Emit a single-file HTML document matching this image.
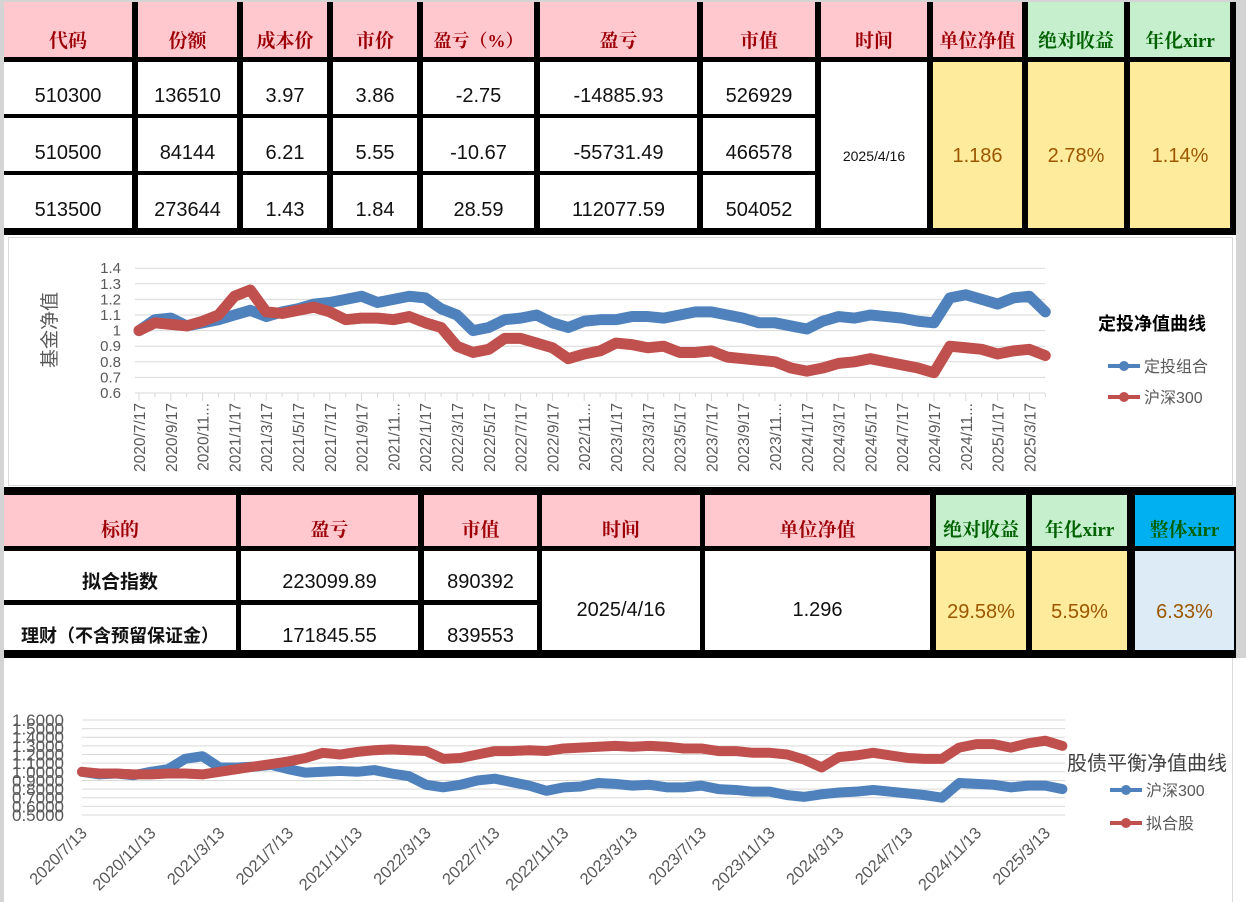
<!DOCTYPE html>
<html><head><meta charset="utf-8">
<style>
body{margin:0;width:1246px;height:902px;background:#d4d4d4;position:relative;overflow:hidden;font-family:"Liberation Sans","Noto Sans CJK SC",sans-serif}
.blk{position:absolute;background:#000}
.c{position:absolute;display:flex;justify-content:center;align-items:flex-end;box-sizing:border-box;padding-bottom:6px;font-size:20px;color:#111;white-space:nowrap}
.h{background:#ffc7ce;color:#9c0006;font-weight:bold;font-family:"Liberation Serif","Noto Serif CJK SC",serif;font-size:19px;padding-bottom:4px}
.g{background:#c6efce;color:#006100}
.y{background:#ffeb9c;color:#9c5700;align-items:center;padding-bottom:0}
.w{background:#fff}
.m{align-items:center;padding-bottom:0}
.low{padding-top:22px}
svg text{font-family:"Liberation Sans","Noto Sans CJK SC",sans-serif}
</style></head><body>
<!-- top table -->
<div class="blk" style="left:4px;top:2px;width:1232px;height:233px"></div>
<div class="c h" style="left:4px;top:2px;width:128px;height:55px">代码</div>
<div class="c h" style="left:138px;top:2px;width:99px;height:55px">份额</div>
<div class="c h" style="left:243px;top:2px;width:84px;height:55px">成本价</div>
<div class="c h" style="left:333px;top:2px;width:84px;height:55px">市价</div>
<div class="c h" style="left:423px;top:2px;width:111px;height:55px;font-size:18px">盈亏（%）</div>
<div class="c h" style="left:540px;top:2px;width:157px;height:55px">盈亏</div>
<div class="c h" style="left:703px;top:2px;width:112px;height:55px">市值</div>
<div class="c h" style="left:821px;top:2px;width:106px;height:55px">时间</div>
<div class="c h" style="left:933px;top:2px;width:89px;height:55px">单位净值</div>
<div class="c h g" style="left:1028px;top:2px;width:96px;height:55px">绝对收益</div>
<div class="c h g" style="left:1130px;top:2px;width:100px;height:55px">年化xirr</div>

<div class="c w" style="left:4px;top:62px;width:128px;height:52px">510300</div>
<div class="c w" style="left:138px;top:62px;width:99px;height:52px">136510</div>
<div class="c w" style="left:243px;top:62px;width:84px;height:52px">3.97</div>
<div class="c w" style="left:333px;top:62px;width:84px;height:52px">3.86</div>
<div class="c w" style="left:423px;top:62px;width:111px;height:52px">-2.75</div>
<div class="c w" style="left:540px;top:62px;width:157px;height:52px">-14885.93</div>
<div class="c w" style="left:703px;top:62px;width:112px;height:52px">526929</div>

<div class="c w" style="left:4px;top:118px;width:128px;height:53px">510500</div>
<div class="c w" style="left:138px;top:118px;width:99px;height:53px">84144</div>
<div class="c w" style="left:243px;top:118px;width:84px;height:53px">6.21</div>
<div class="c w" style="left:333px;top:118px;width:84px;height:53px">5.55</div>
<div class="c w" style="left:423px;top:118px;width:111px;height:53px">-10.67</div>
<div class="c w" style="left:540px;top:118px;width:157px;height:53px">-55731.49</div>
<div class="c w" style="left:703px;top:118px;width:112px;height:53px">466578</div>

<div class="c w" style="left:4px;top:175px;width:128px;height:53px">513500</div>
<div class="c w" style="left:138px;top:175px;width:99px;height:53px">273644</div>
<div class="c w" style="left:243px;top:175px;width:84px;height:53px">1.43</div>
<div class="c w" style="left:333px;top:175px;width:84px;height:53px">1.84</div>
<div class="c w" style="left:423px;top:175px;width:111px;height:53px">28.59</div>
<div class="c w" style="left:540px;top:175px;width:157px;height:53px">112077.59</div>
<div class="c w" style="left:703px;top:175px;width:112px;height:53px">504052</div>

<div class="c w m low" style="left:821px;top:62px;width:106px;height:166px;font-size:14px">2025/4/16</div>
<div class="c y low" style="left:933px;top:62px;width:89px;height:166px">1.186</div>
<div class="c y low" style="left:1028px;top:62px;width:96px;height:166px">2.78%</div>
<div class="c y low" style="left:1130px;top:62px;width:100px;height:166px">1.14%</div>

<!-- chart 1 -->
<svg id="ch1" style="position:absolute;left:4px;top:235px" width="1232" height="252" viewBox="4 235 1232 252"></svg>

<!-- second table -->
<div class="blk" style="left:4px;top:487px;width:1232px;height:171px"></div>
<div class="c h" style="left:4px;top:495px;width:232px;height:51px">标的</div>
<div class="c h" style="left:241px;top:495px;width:177px;height:51px">盈亏</div>
<div class="c h" style="left:424px;top:495px;width:113px;height:51px">市值</div>
<div class="c h" style="left:542px;top:495px;width:158px;height:51px">时间</div>
<div class="c h" style="left:705px;top:495px;width:225px;height:51px">单位净值</div>
<div class="c h g" style="left:936px;top:495px;width:90px;height:51px">绝对收益</div>
<div class="c h g" style="left:1032px;top:495px;width:95px;height:51px">年化xirr</div>
<div class="c h" style="left:1135px;top:495px;width:99px;height:51px;background:#00b0f0;color:#006100">整体xirr</div>

<div class="c w" style="left:4px;top:551px;width:232px;height:49px;font-weight:bold;font-size:19px">拟合指数</div>
<div class="c w" style="left:241px;top:551px;width:177px;height:49px">223099.89</div>
<div class="c w" style="left:424px;top:551px;width:113px;height:49px">890392</div>
<div class="c w" style="left:4px;top:605px;width:232px;height:45px;font-weight:bold;font-size:18px;padding-bottom:2px">理财（不含预留保证金）</div>
<div class="c w" style="left:241px;top:605px;width:177px;height:45px;padding-bottom:2px">171845.55</div>
<div class="c w" style="left:424px;top:605px;width:113px;height:45px;padding-bottom:2px">839553</div>
<div class="c w m" style="left:542px;top:551px;width:158px;height:99px;padding-top:20px">2025/4/16</div>
<div class="c w m" style="left:705px;top:551px;width:225px;height:99px;padding-top:20px">1.296</div>
<div class="c y" style="left:936px;top:551px;width:90px;height:99px;padding-top:24px">29.58%</div>
<div class="c y" style="left:1032px;top:551px;width:95px;height:99px;padding-top:24px">5.59%</div>
<div class="c y" style="left:1135px;top:551px;width:99px;height:99px;background:#ddebf7;padding-top:24px">6.33%</div>

<!-- chart 2 -->
<svg id="ch2" style="position:absolute;left:4px;top:658px" width="1242" height="244" viewBox="4 658 1242 244"></svg>

<script>
// ---- chart 1 data (monthly, 2020/7 .. 2025/4) ----
const c1Ticks = ["2020/7/17","2020/9/17","2020/11...","2021/1/17","2021/3/17","2021/5/17","2021/7/17","2021/9/17","2021/11...","2022/1/17","2022/3/17","2022/5/17","2022/7/17","2022/9/17","2022/11...","2023/1/17","2023/3/17","2023/5/17","2023/7/17","2023/9/17","2023/11...","2024/1/17","2024/3/17","2024/5/17","2024/7/17","2024/9/17","2024/11...","2025/1/17","2025/3/17"];
const c1YTicks = [0.6,0.7,0.8,0.9,1,1.1,1.2,1.3,1.4];
const c1Dca = [1.00,1.07,1.08,1.03,1.05,1.07,1.10,1.13,1.09,1.12,1.14,1.17,1.18,1.20,1.22,1.18,1.20,1.22,1.21,1.14,1.10,1.00,1.02,1.07,1.08,1.10,1.05,1.02,1.06,1.07,1.07,1.09,1.09,1.08,1.10,1.12,1.12,1.10,1.08,1.05,1.05,1.03,1.01,1.06,1.09,1.08,1.10,1.09,1.08,1.06,1.05,1.21,1.23,1.20,1.17,1.21,1.22,1.12];
const c1Hs300 = [1.00,1.05,1.04,1.03,1.06,1.10,1.22,1.26,1.12,1.11,1.13,1.15,1.12,1.07,1.08,1.08,1.07,1.09,1.05,1.02,0.90,0.86,0.88,0.95,0.95,0.92,0.89,0.82,0.85,0.87,0.92,0.91,0.89,0.90,0.86,0.86,0.87,0.83,0.82,0.81,0.80,0.76,0.74,0.76,0.79,0.80,0.82,0.80,0.78,0.76,0.73,0.90,0.89,0.88,0.85,0.87,0.88,0.84];

// ---- chart 2 data (monthly, 2020/7 .. 2025/4) ----
const c2Ticks = ["2020/7/13","2020/11/13","2021/3/13","2021/7/13","2021/11/13","2022/3/13","2022/7/13","2022/11/13","2023/3/13","2023/7/13","2023/11/13","2024/3/13","2024/7/13","2024/11/13","2025/3/13"];
const c2YTicks = [0.5,0.6,0.7,0.8,0.9,1.0,1.1,1.2,1.3,1.4,1.5,1.6];
const c2Hs300 = [1.00,0.97,0.98,0.96,1.00,1.03,1.15,1.18,1.05,1.05,1.06,1.08,1.03,0.99,1.00,1.01,1.00,1.02,0.98,0.95,0.85,0.82,0.85,0.90,0.92,0.88,0.84,0.78,0.82,0.83,0.87,0.86,0.84,0.85,0.82,0.82,0.84,0.80,0.79,0.77,0.77,0.73,0.71,0.74,0.76,0.77,0.79,0.77,0.75,0.73,0.70,0.87,0.86,0.85,0.82,0.84,0.84,0.80];
const c2Fit = [1.00,0.98,0.98,0.97,0.97,0.98,0.98,0.97,1.00,1.03,1.06,1.09,1.12,1.16,1.22,1.20,1.23,1.25,1.26,1.25,1.24,1.15,1.16,1.20,1.24,1.24,1.25,1.24,1.27,1.28,1.29,1.30,1.29,1.30,1.29,1.27,1.27,1.24,1.24,1.22,1.22,1.20,1.14,1.05,1.17,1.19,1.22,1.19,1.16,1.15,1.15,1.28,1.32,1.32,1.28,1.33,1.36,1.30];

const NS='http://www.w3.org/2000/svg';
function mk(p,tag,attrs,txt){const e=document.createElementNS(NS,tag);for(const k in attrs)e.setAttribute(k,attrs[k]);if(txt!==undefined)e.textContent=txt;p.appendChild(e);return e;}

// chart 1
(function(){
const s=document.getElementById('ch1');
mk(s,'rect',{x:4,y:235,width:1232,height:252,fill:'#fff'});
const frame=mk(s,'rect',{x:8.5,y:237.5,width:1224,height:248,fill:'none',stroke:'#d9d9d9'});


const x0=139, dx=15.9, X=i=>x0+i*dx;
const Y=v=>393-(v-0.6)*156;
c1YTicks.forEach(v=>{
  const g=mk(s,'line',{x1:135,x2:1045,y1:Y(v),y2:Y(v),stroke:'#d9d9d9','stroke-width':1});
  
  
  const t=mk(s,'text',{x:121,y:Y(v)+5,'text-anchor':'end','font-size':15,fill:'#595959'},String(v));
  
  
});
for(let i=0;i<=57;i++){mk(s,'line',{x1:X(i),x2:X(i),y1:393,y2:i%2==0?401:397,stroke:'#d9d9d9'});}
c1Ticks.forEach((lab,k)=>{
  const x=X(2*k);
  const t=mk(s,'text',{x:0,y:0,transform:`translate(${x+6},403) rotate(-90)`,'text-anchor':'end','font-size':15.5,fill:'#595959'},lab);
  
  
});
const yt=mk(s,'text',{x:0,y:0,transform:'translate(56,330) rotate(-90)','text-anchor':'middle','font-size':19,fill:'#595959'},'基金净值');


function series(arr,col,name){
  const pts=arr.map((v,i)=>X(i)+','+Y(v)).join(' ');
  const l=mk(s,'polyline',{points:pts,fill:'none',stroke:col,'stroke-width':11,'stroke-linejoin':'round','stroke-linecap':'round'});
  
  
}
series(c1Dca,'#4f81bd','dca-portfolio-line');
series(c1Hs300,'#c0504d','hs300-line');
const lt=mk(s,'text',{x:1098,y:330,'font-size':18,'font-weight':'bold',fill:'#000'},'定投净值曲线');


[['定投组合','#4f81bd',366],['沪深300','#c0504d',397]].forEach(([n,c,y])=>{
  mk(s,'line',{x1:1108,x2:1140,y1:y,y2:y,stroke:c,'stroke-width':4});
  mk(s,'circle',{cx:1124,cy:y,r:5,fill:c});
  const t=mk(s,'text',{x:1144,y:y+6,'font-size':16,fill:'#595959'},n);
  
  
});
})();

// chart 2
(function(){
const s=document.getElementById('ch2');
mk(s,'rect',{x:4,y:658,width:1242,height:244,fill:'#fff'});
mk(s,'line',{x1:1232.5,x2:1232.5,y1:658,y2:902,stroke:'#d9d9d9'});
const x0=82, dx=17.2, X=i=>x0+i*dx;
const Y=v=>815-(v-0.5)*86.4;
c2YTicks.forEach(v=>{
  const g=mk(s,'line',{x1:82,x2:1065,y1:Y(v),y2:Y(v),stroke:'#d9d9d9'});
  
  
  const t=mk(s,'text',{x:64,y:Y(v)+6,'text-anchor':'end','font-size':17,fill:'#595959'},v.toFixed(4));
  
  
});
c2Ticks.forEach((lab,k)=>{
  const x=X(4*k);
  const t=mk(s,'text',{x:0,y:0,transform:`translate(${x+6},834) rotate(-45)`,'text-anchor':'end','font-size':16.5,fill:'#595959'},lab);
  
  
});
function series(arr,col,name){
  const pts=arr.map((v,i)=>X(i)+','+Y(v)).join(' ');
  const l=mk(s,'polyline',{points:pts,fill:'none',stroke:col,'stroke-width':10,'stroke-linejoin':'round','stroke-linecap':'round'});
  
  
}
series(c2Hs300,'#4f81bd','hs300-line-2');
series(c2Fit,'#c0504d','fitted-stock-line');
const lt=mk(s,'text',{x:1067,y:770,'font-size':20,fill:'#404040'},'股债平衡净值曲线');


[['沪深300','#4f81bd',790],['拟合股','#c0504d',823]].forEach(([n,c,y])=>{
  mk(s,'line',{x1:1110,x2:1142,y1:y,y2:y,stroke:c,'stroke-width':4});
  mk(s,'circle',{cx:1126,cy:y,r:5,fill:c});
  const t=mk(s,'text',{x:1146,y:y+6,'font-size':16,fill:'#595959'},n);
  
  
});
})();
</script>
</body></html>
